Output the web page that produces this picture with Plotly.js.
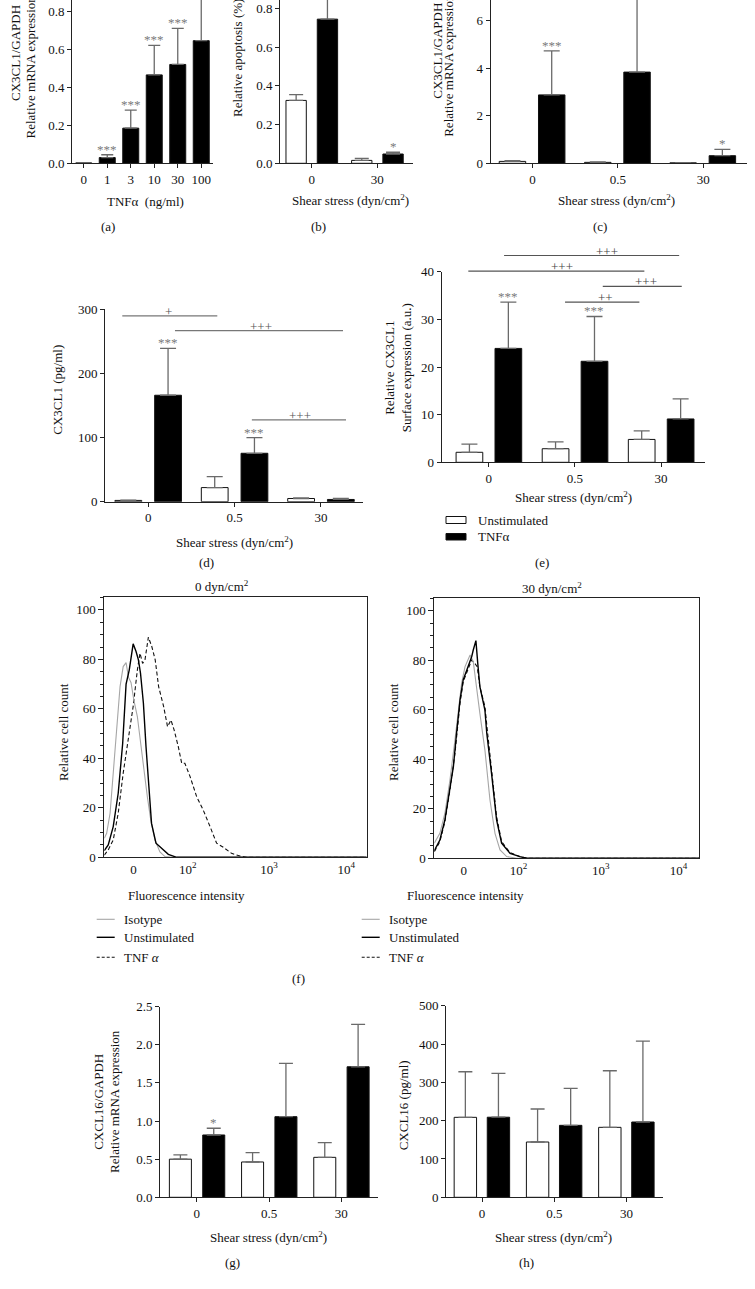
<!DOCTYPE html>
<html><head><meta charset="utf-8">
<script src="https://cdn.plot.ly/plotly-3.0.1.min.js"></script>
<style>html,body{margin:0;padding:0;background:#fff;} #chart{width:755px;height:1289px;}</style>
</head><body><div id="chart"></div>
<script>
// ---------------- DATA ----------------
// (a) CX3CL1 mRNA vs TNFa dose
const tnfDoses = ['0','1','3','10','30','100'];
const aMean = [0.002, 0.03, 0.185, 0.465, 0.52, 0.645];
const aErr  = [0, 0.015, 0.095, 0.155, 0.19, 0.30];
const aSig  = ['', '***', '***', '***', '***', ''];

// (b) apoptosis
const shearB = ['0','30'];
const bUnstim = [0.325, 0.015];
const bUnstimErr = [0.03, 0.01];
const bTnf = [0.745, 0.048];
const bTnfErr = [0.15, 0.009];
const bSig = ['', '*'];

// common shear stress categories
const shear3 = ['0','0.5','30'];

// (c) CX3CL1 mRNA
const cUnstim = [0.08, 0.04, 0.02];
const cUnstimErr = [0.03, 0.02, 0.01];
const cTnf = [2.88, 3.84, 0.32];
const cTnfErr = [1.85, 3.5, 0.27];
const cSig = ['***', '', '*'];

// (d) soluble CX3CL1 (pg/ml)
const dUnstim = [2, 22, 5];
const dUnstimErr = [0.5, 17, 0.8];
const dTnf = [166, 75.5, 3.5];
const dTnfErr = [73, 24.5, 1.5];
const dSig = ['***', '***', ''];
const dSigX0 = [-0.30, 0.31, 1.20];
const dSigX1 = [0.80, 2.255, 2.29];
const dSigY  = [290, 267, 127.5];
const dSigLabelX = [0.23, 1.30, 1.76];
const dSigText = ['+', '+++', '+++'];

// (e) surface CX3CL1
const eUnstim = [2.1, 2.85, 4.8];
const eUnstimErr = [1.7, 1.45, 1.8];
const eTnf = [23.9, 21.2, 9.1];
const eTnfErr = [9.7, 9.4, 4.2];
const eSig = ['***', '***', ''];
const eSigX0 = [0.177, -0.238, 1.323, 0.885];
const eSigX1 = [2.21, 1.806, 2.24, 1.748];
const eSigY  = [43.4, 40.1, 36.9, 33.6];
const eSigLabelX = [1.37, 0.85, 1.82, 1.35];
const eSigText = ['+++', '+++', '+++', '++'];

// (f) flow histograms, x in display channel units (0-1000)
const flowTickVals = [111, 318, 628, 922];
const flowTickText = ['0', '10<sup>2</sup>', '10<sup>3</sup>', '10<sup>4</sup>'];
const isoL_x = [0, 9, 22, 34, 47, 60, 72, 83, 92, 102, 113, 126, 139, 151, 164, 177, 193, 212, 231, 260, 1000];
const isoL_y = [7.7, 9.7, 17.8, 34, 52.8, 69, 77.1, 78.7, 72.8, 70.6, 63.3, 56.9, 45.8, 35.3, 24.5, 15.1, 7, 2.2, 0.3, 0, 0];
const unsL_x = [0, 15, 34, 53, 70, 83, 95, 110, 121, 130, 138, 149, 159, 169, 180, 197, 219, 244, 276, 1000];
const unsL_y = [2.7, 5, 12.4, 25.9, 46, 70, 75.7, 86.3, 83.2, 79.8, 74.4, 62.3, 44.7, 28.6, 13.7, 5.7, 3.5, 1.2, 0, 0];
const tnfL_x = [0, 15, 34, 53, 72, 92, 110, 126, 136, 146, 155, 168, 181, 194, 207, 226, 241, 254, 266, 282, 295, 307, 327, 352, 377, 403, 428, 454, 485, 517, 542, 1000];
const tnfL_y = [0.9, 3, 7, 17.8, 34, 47.4, 61, 75.7, 82.5, 78.4, 79.8, 89, 85.2, 79.8, 69, 61, 52.8, 55.5, 51.5, 44.7, 38, 38, 32.6, 24.5, 19.1, 12.4, 5.7, 4, 1.6, 0.5, 0, 0];
const isoR_x = [0, 21, 40, 59, 78, 91, 103, 116, 135, 147, 160, 172, 191, 210, 229, 248, 273, 311, 1000];
const isoR_y = [6.1, 10.1, 18.2, 31.6, 47.8, 61.2, 70.7, 77.4, 82.1, 79.4, 68, 58.5, 43.7, 23.6, 10.1, 3.4, 0.7, 0, 0];
const unsR_x = [0, 21, 40, 59, 72, 84, 97, 109, 128, 141, 147, 157, 164, 172, 191, 198, 216, 235, 254, 286, 323, 348, 1000];
const unsR_y = [3.1, 7.4, 15.5, 28.9, 37, 50.5, 63.9, 72, 77.4, 81.4, 84.1, 87.9, 78.7, 69.3, 59.9, 50.5, 34.3, 15.5, 6.1, 2, 0.7, 0, 0];
const tnfR_x = [0, 21, 40, 59, 78, 97, 109, 128, 141, 153, 162, 172, 191, 200, 216, 235, 254, 286, 330, 361, 1000];
const tnfR_y = [2.7, 6.7, 14.8, 27.6, 42.4, 62.6, 71.3, 76.7, 80.1, 78.7, 77.4, 69.3, 61.2, 51.8, 35.7, 16.8, 6.7, 2.3, 0.4, 0, 0];

// (g) CXCL16 mRNA
const gUnstim = [0.50, 0.463, 0.524];
const gUnstimErr = [0.055, 0.122, 0.192];
const gTnf = [0.817, 1.057, 1.711];
const gTnfErr = [0.088, 0.699, 0.557];
const gSig = ['*', '', ''];

// (h) soluble CXCL16
const hUnstim = [208.7, 144.3, 182.6];
const hUnstimErr = [118.9, 86.1, 147.7];
const hTnf = [209, 187.8, 196.5];
const hTnfErr = [114.5, 96.5, 211.3];

// ---------------- LAYOUT HELPERS ----------------
const W = 755, H = 1289;
const F = 'Liberation Serif, Times New Roman, serif';
const TXT = '#111';
const FS = 13;
const dx = (l, r) => [l / W, r / W];
const dy = (b, t) => [Math.max(0, 1 - b / H), Math.min(1, 1 - t / H)];
const px = v => v / W, py = v => 1 - v / H;

const axBase = {
  showline: true, linecolor: '#222', linewidth: 1, ticks: 'outside', ticklen: 4, tickwidth: 1,
  tickcolor: '#222', tickfont: {family: F, size: FS, color: TXT}, showgrid: false, zeroline: false, fixedrange: true
};
const mk = (o) => Object.assign({}, axBase, o);

const traces = [];
const annotations = [];
const shapes = [];

const OFF_W = -0.385, OFF_B = 0.075, BW = 0.31;
const zeros = n => new Array(n).fill(0);

function barTrace(cats, vals, errs, fill, offset, width, xa, ya, capw) {
  return {
    type: 'bar', x: cats, y: vals, xaxis: xa, yaxis: ya, offset: offset, width: width,
    marker: {color: fill, line: {color: '#111', width: 1}},
    error_y: {type: 'data', symmetric: false, array: errs, arrayminus: zeros(errs.length),
      color: '#6a6a6a', thickness: 1.3, width: capw, visible: true},
    hoverinfo: 'skip'
  };
}
function stars(sig, vals, errs, offset, width, xa, ya) {
  sig.forEach((s, i) => {
    if (!s) return;
    annotations.push({text: s, x: i + offset + width / 2, y: vals[i] + errs[i], xref: xa, yref: ya,
      xanchor: 'center', yanchor: 'bottom', yshift: -4, showarrow: false,
      font: {family: F, size: FS, color: '#7a7a7a'}});
  });
}
function text(t, x, y, o) {
  annotations.push(Object.assign({text: t, x: px(x), y: py(y), xref: 'paper', yref: 'paper',
    xanchor: 'center', yanchor: 'middle', showarrow: false,
    font: {family: F, size: FS, color: TXT}}, o || {}));
}
function ytitle(t, x, y) { text(t, x, y, {textangle: -90}); }

// ---------------- (a) ----------------
traces.push(barTrace(tnfDoses, aMean, aErr, '#000', -0.34, 0.68, 'x', 'y', 6));
stars(aSig, aMean, aErr, -0.34, 0.68, 'x', 'y');
// ---------------- (b) ----------------
traces.push(barTrace(shearB, bUnstim, bUnstimErr, '#fff', -0.392, 0.31, 'x2', 'y2', 7));
traces.push(barTrace(shearB, bTnf, bTnfErr, '#000', 0.085, 0.31, 'x2', 'y2', 7));
stars(bSig, bTnf, bTnfErr, 0.085, 0.31, 'x2', 'y2');
// ---------------- (c) ----------------
traces.push(barTrace(shear3, cUnstim, cUnstimErr, '#fff', -0.39, 0.31, 'x3', 'y3', 8));
traces.push(barTrace(shear3, cTnf, cTnfErr, '#000', 0.07, 0.31, 'x3', 'y3', 8));
stars(cSig, cTnf, cTnfErr, 0.07, 0.31, 'x3', 'y3');
// ---------------- (d) ----------------
traces.push(barTrace(shear3, dUnstim, dUnstimErr, '#fff', OFF_W, BW, 'x4', 'y4', 8));
traces.push(barTrace(shear3, dTnf, dTnfErr, '#000', OFF_B, BW, 'x4', 'y4', 8));
stars(dSig, dTnf, dTnfErr, OFF_B, BW, 'x4', 'y4');
dSigY.forEach((y, i) => {
  traces.push({type: 'scatter', mode: 'lines', x: [dSigX0[i], dSigX1[i]], y: [y, y], xaxis: 'x10', yaxis: 'y10',
    line: {color: '#777', width: 1.3}, hoverinfo: 'skip'});
  annotations.push({text: dSigText[i], x: dSigLabelX[i], y: y, xref: 'x10', yref: 'y10', xanchor: 'center',
    yanchor: 'bottom', yshift: -5, showarrow: false, font: {family: F, size: FS, color: '#555'}});
});
// ---------------- (e) ----------------
traces.push(barTrace(shear3, eUnstim, eUnstimErr, '#fff', -0.38, BW, 'x5', 'y5', 8));
traces.push(barTrace(shear3, eTnf, eTnfErr, '#000', 0.072, BW, 'x5', 'y5', 8));
stars(eSig, eTnf, eTnfErr, 0.072, BW, 'x5', 'y5');
eSigY.forEach((y, i) => {
  traces.push({type: 'scatter', mode: 'lines', x: [eSigX0[i], eSigX1[i]], y: [y, y], xaxis: 'x11', yaxis: 'y11',
    line: {color: '#555', width: 1.2}, hoverinfo: 'skip'});
  annotations.push({text: eSigText[i], x: eSigLabelX[i], y: y, xref: 'x11', yref: 'y11', xanchor: 'center',
    yanchor: 'bottom', yshift: -5, showarrow: false, font: {family: F, size: FS, color: '#444'}});
});
// ---------------- (f) ----------------
const isoStyle = {color: '#a6a6a6', width: 1.1};
const unsStyle = {color: '#000', width: 1.4};
const tnfStyle = {color: '#111', width: 1.1, dash: '4px,2.5px'};
[['x6', 'y6', isoL_x, isoL_y, unsL_x, unsL_y, tnfL_x, tnfL_y], ['x7', 'y7', isoR_x, isoR_y, unsR_x, unsR_y, tnfR_x, tnfR_y]]
  .forEach(p => {
    traces.push({type: 'scatter', mode: 'lines', x: p[6], y: p[7], xaxis: p[0], yaxis: p[1], line: tnfStyle, hoverinfo: 'skip'});
    traces.push({type: 'scatter', mode: 'lines', x: p[2], y: p[3], xaxis: p[0], yaxis: p[1], line: isoStyle, hoverinfo: 'skip'});
    traces.push({type: 'scatter', mode: 'lines', x: p[4], y: p[5], xaxis: p[0], yaxis: p[1], line: unsStyle, hoverinfo: 'skip'});
  });
// ---------------- (g) ----------------
traces.push(barTrace(shear3, gUnstim, gUnstimErr, '#fff', -0.38, 0.305, 'x8', 'y8', 7));
traces.push(barTrace(shear3, gTnf, gTnfErr, '#000', 0.082, 0.305, 'x8', 'y8', 7));
stars(gSig, gTnf, gTnfErr, 0.082, 0.305, 'x8', 'y8');
// ---------------- (h) ----------------
traces.push(barTrace(shear3, hUnstim, hUnstimErr, '#fff', -0.387, BW, 'x9', 'y9', 7));
traces.push(barTrace(shear3, hTnf, hTnfErr, '#000', 0.071, BW, 'x9', 'y9', 7));

// ---------------- TEXT ----------------
ytitle('CX3CL1/GAPDH', 15, 53);
ytitle('Relative mRNA expression', 30.5, 67);
text('TNF\u03b1\u00a0 (ng/ml)', 145, 201.7);
text('(a)', 108.3, 226);
ytitle('Relative apoptosis (%)', 237, 58);
text('Shear stress (dyn/cm<sup>2</sup>)', 350, 200);
text('(b)', 318.3, 226);
ytitle('CX3CL1/GAPDH', 436.7, 51);
ytitle('Relative mRNA expression', 448.8, 65);
text('Shear stress (dyn/cm<sup>2</sup>)', 616.7, 200);
text('(c)', 600, 226);
ytitle('CX3CL1 (pg/ml)', 56.7, 390);
text('Shear stress (dyn/cm<sup>2</sup>)', 234, 542);
text('(d)', 206.7, 562);
ytitle('Relative CX3CL1<br>Surface expression (a.u.)', 398.3, 368);
text('Shear stress (dyn/cm<sup>2</sup>)', 573.3, 496.7);
text('(e)', 541.7, 562);
// legend (e)
shapes.push({type: 'rect', xref: 'paper', yref: 'paper', x0: px(446), x1: px(466), y0: py(523.5), y1: py(516.5), fillcolor: '#fff', line: {color: '#111', width: 1}});
shapes.push({type: 'rect', xref: 'paper', yref: 'paper', x0: px(446), x1: px(466), y0: py(540), y1: py(533.5), fillcolor: '#000', line: {color: '#111', width: 1}});
text('Unstimulated', 476, 520.7, {xanchor: 'left'});
text('TNF\u03b1', 476, 536.7, {xanchor: 'left'});
// (f)
text('0 dyn/cm<sup>2</sup>', 221.7, 586);
text('30 dyn/cm<sup>2</sup>', 551.7, 588);
ytitle('Relative cell count', 63.3, 731.7);
ytitle('Relative cell count', 393.3, 731.7);
text('Fluorescence intensity', 186.7, 895);
text('Fluorescence intensity', 465, 895);
[[96.7, 121.7], [361.7, 387]].forEach(l => {
  const rows = [[919.3, 'Isotype', isoStyle], [937.3, 'Unstimulated', unsStyle], [957.3, 'TNF <i>\u03b1</i>', tnfStyle]];
  rows.forEach(r => {
    shapes.push({type: 'line', xref: 'paper', yref: 'paper', x0: px(l[0]), x1: px(l[0] + 18), y0: py(r[0]), y1: py(r[0]),
      line: {color: r[2].color, width: r[2].width, dash: r[2].dash ? '3px,2px' : 'solid'}});
    text(r[1], l[1], r[0], {xanchor: 'left'});
  });
});
text('(f)', 298, 978.3);
// (g)
ytitle('CXCL16/GAPDH<br>Relative mRNA expression', 106.2, 1101.7);
text('Shear stress (dyn/cm<sup>2</sup>)', 268.3, 1236.7);
text('(g)', 232.7, 1262.7);
// (h)
ytitle('CXCL16 (pg/ml)', 403.3, 1105);
text('Shear stress (dyn/cm<sup>2</sup>)', 553.3, 1236.7);
text('(h)', 526.7, 1262.7);

// ---------------- AXES ----------------
const catX = (d, r, anchor) => mk({type: 'category', domain: d, range: r, anchor: anchor});
const flowY = (d, anchor) => mk({domain: d, range: [0, 105.1], dtick: 20, anchor: anchor, mirror: true, ticklen: 5,
  minor: {dtick: 5, ticklen: 3, ticks: 'outside', tickcolor: '#222'}});
const flowX = (d, anchor) => mk({domain: d, range: [0, 1000], anchor: anchor, mirror: true, ticks: '',
  tickvals: flowTickVals, ticktext: flowTickText});
const hidden = {visible: false, showline: false, showgrid: false, zeroline: false, ticks: '', showticklabels: false, fixedrange: true};

const layout = {
  width: W, height: H, margin: {l: 0, r: 0, t: 0, b: 0}, paper_bgcolor: '#fff', plot_bgcolor: 'rgba(0,0,0,0)',
  showlegend: false, barmode: 'overlay', font: {family: F, size: FS, color: TXT},
  xaxis:  catX(dx(72, 213), [-0.5, 5.5], 'y'),
  yaxis:  mk({domain: dy(163.3, 0), range: [0, 0.859], dtick: 0.2, tickformat: '.1f', anchor: 'x'}),
  xaxis2: catX(dx(280, 413), [-0.483, 1.544], 'y2'),
  yaxis2: mk({domain: dy(163.3, 0), range: [0, 0.844], dtick: 0.2, tickformat: '.1f', anchor: 'x2'}),
  xaxis3: catX(dx(490.7, 746.7), [-0.49, 2.51], 'y3'),
  yaxis3: mk({domain: dy(163.3, 0), range: [0, 6.876], dtick: 2, anchor: 'x3'}),
  xaxis4: catX(dx(105, 363.3), [-0.5, 2.49], 'y4'),
  yaxis4: mk({domain: dy(501.7, 309.3), range: [0, 300], dtick: 100, anchor: 'x4'}),
  xaxis5: catX(dx(441.7, 705), [-0.547, 2.51], 'y5'),
  yaxis5: mk({domain: dy(462.3, 271.7), range: [0, 40], dtick: 10, anchor: 'x5'}),
  xaxis6: flowX(dx(104.3, 366.7), 'y6'),
  yaxis6: flowY(dy(857.3, 597.3), 'x6'),
  xaxis7: flowX(dx(434.3, 699.3), 'y7'),
  yaxis7: Object.assign(flowY(dy(858.3, 598.3), 'x7'), {range: [0, 105]}),
  xaxis8: catX(dx(160, 378), [-0.51, 2.51], 'y8'),
  yaxis8: mk({domain: dy(1197.3, 1006.6), range: [0, 2.5], dtick: 0.5, tickformat: '.1f', anchor: 'x8'}),
  xaxis9: catX(dx(446, 662.7), [-0.5, 2.5], 'y9'),
  yaxis9: mk({domain: dy(1197.3, 1005.7), range: [0, 500], dtick: 100, anchor: 'x9'}),
  xaxis10: Object.assign({}, hidden, {domain: dx(105, 363.3), range: [-0.5, 2.49], anchor: 'y10'}),
  yaxis10: Object.assign({}, hidden, {domain: dy(501.7, 280), range: [0, (501.7 - 280) / 0.641], anchor: 'x10'}),
  xaxis11: Object.assign({}, hidden, {domain: dx(441.7, 705), range: [-0.547, 2.51], anchor: 'y11'}),
  yaxis11: Object.assign({}, hidden, {domain: dy(462.3, 230), range: [0, (462.3 - 230) / 4.765], anchor: 'x11'}),
  annotations: annotations, shapes: shapes
};

Plotly.newPlot('chart', traces, layout, {staticPlot: true, displayModeBar: false});
</script></body></html>
